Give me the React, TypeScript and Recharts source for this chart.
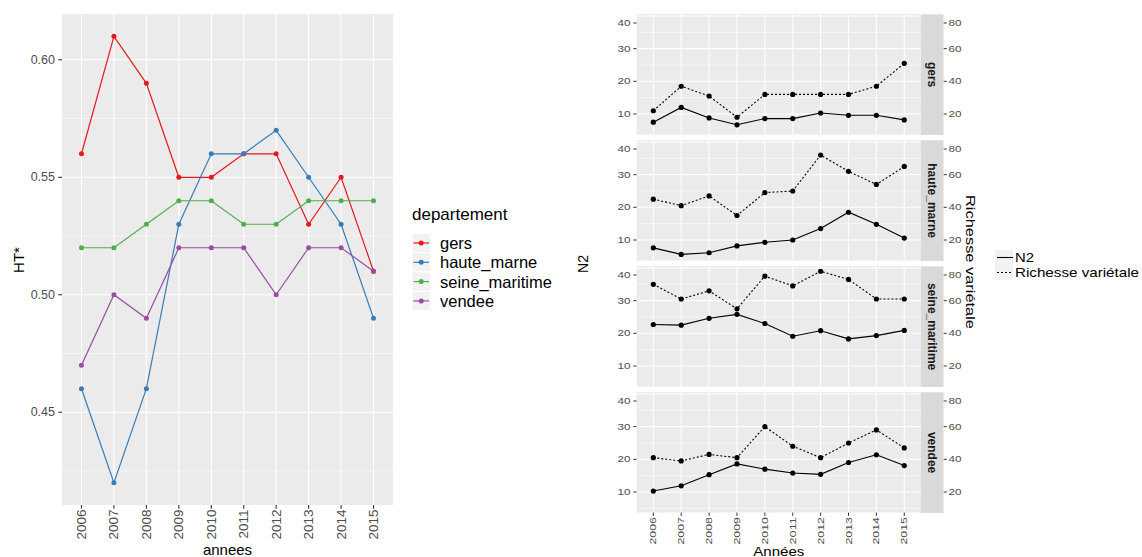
import { LineChart, Line, XAxis, YAxis, CartesianGrid } from "recharts";

const annees = [2006, 2007, 2008, 2009, 2010, 2011, 2012, 2013, 2014, 2015];

// HT* par departement (graphique de gauche)
const departements = ["gers", "haute_marne", "seine_maritime", "vendee"];
const couleurs = ["#E41A1C", "#377EB8", "#4DAF4A", "#984EA3"];
const htGers = [0.56, 0.61, 0.59, 0.55, 0.55, 0.56, 0.56, 0.53, 0.55, 0.51];
const htHauteMarne = [0.46, 0.42, 0.46, 0.53, 0.56, 0.56, 0.57, 0.55, 0.53, 0.49];
const htSeineMaritime = [0.52, 0.52, 0.53, 0.54, 0.54, 0.53, 0.53, 0.54, 0.54, 0.54];
const htVendee = [0.47, 0.5, 0.49, 0.52, 0.52, 0.52, 0.5, 0.52, 0.52, 0.51];
const htTicks = [0.45, 0.5, 0.55, 0.6];
const htMinor = [0.425, 0.475, 0.525, 0.575];

// N2 et richesse variétale (facettes de droite)
const n2Gers = [7.5, 12.0, 8.8, 6.7, 8.6, 8.6, 10.3, 9.6, 9.6, 8.2];
const richGers = [22, 37, 31, 18, 32, 32, 32, 32, 37, 51];
const n2HauteMarne = [7.6, 5.6, 6.1, 8.2, 9.3, 10.0, 13.5, 18.5, 14.8, 10.6];
const richHauteMarne = [45, 41, 47, 35, 49, 50, 72, 62, 54, 65];
const n2SeineMaritime = [22.7, 22.5, 24.6, 25.8, 23.0, 19.1, 20.8, 18.3, 19.3, 20.9];
const richSeineMaritime = [70, 61, 66, 55, 75, 69, 78, 73, 61, 61];
const n2Vendee = [10.3, 11.9, 15.3, 18.6, 17.0, 15.8, 15.4, 19.0, 21.4, 18.1];
const richVendee = [41, 39, 43, 41, 60, 48, 41, 50, 58, 47];
const n2Ticks = [10, 20, 30, 40];
const n2Minor = [5, 15, 25, 35];
const richTicks = [20, 40, 60, 80];

const FONT = "'Liberation Sans', Arial, sans-serif";
const GRIS_FOND = "#EBEBEB";

const htRows = annees.map((annee, i) => ({
  annee,
  gers: htGers[i],
  haute_marne: htHauteMarne[i],
  seine_maritime: htSeineMaritime[i],
  vendee: htVendee[i],
}));

const facettes = [
  { label: "gers", n2: n2Gers, rich: richGers },
  { label: "haute_marne", n2: n2HauteMarne, rich: richHauteMarne },
  { label: "seine_maritime", n2: n2SeineMaritime, rich: richSeineMaritime },
  { label: "vendee", n2: n2Vendee, rich: richVendee },
];

const N2_DOMAIN = [3.7, 40.6];
const RICH_DOMAIN = [N2_DOMAIN[0] * 2, N2_DOMAIN[1] * 2];

const PANEL_TOP = 14.3;
const PANEL_STEP = 126;
const PANEL_H = 120.6;

function HtYTick({ x, y, payload }: any) {
  return (
    <g>
      <line x1={x - 3.7} x2={x} y1={y} y2={y} stroke="#333333" strokeWidth={1.1} />
      <text x={x - 7} y={y} textAnchor="end" dominantBaseline="central" fontSize={12.5} fill="#4D4D4D" fontFamily={FONT}>
        {Number(payload.value).toFixed(2)}
      </text>
    </g>
  );
}

function HtXTick({ x, y, payload }: any) {
  return (
    <g>
      <line x1={x} x2={x} y1={y} y2={y + 3.7} stroke="#333333" strokeWidth={1.1} />
      <text
        transform={`translate(${x},${y + 4.5}) rotate(-90)`}
        textAnchor="end"
        dominantBaseline="central"
        fontSize={13.5}
        fill="#4D4D4D"
        fontFamily={FONT}
      >
        {payload.value}
      </text>
    </g>
  );
}

function N2YTick({ x, y, payload }: any) {
  return (
    <g>
      <line x1={x - 3.3} x2={x} y1={y} y2={y} stroke="#333333" strokeWidth={1} />
      <text x={x - 6} y={y} textAnchor="end" dominantBaseline="central" fontSize={9} textLength={13} lengthAdjust="spacingAndGlyphs" fill="#4D4D4D" fontFamily={FONT}>
        {payload.value}
      </text>
    </g>
  );
}

function RichYTick({ x, y, payload }: any) {
  // la bande grise de la facette se trouve entre le panneau et l'axe
  const ax = x + 22.5;
  return (
    <g>
      <line x1={ax} x2={ax + 3.3} y1={y} y2={y} stroke="#333333" strokeWidth={1} />
      <text x={ax + 5} y={y} textAnchor="start" dominantBaseline="central" fontSize={9} textLength={13} lengthAdjust="spacingAndGlyphs" fill="#4D4D4D" fontFamily={FONT}>
        {payload.value}
      </text>
    </g>
  );
}

function AnneeTick({ x, y, payload }: any) {
  return (
    <g>
      <line x1={x} x2={x} y1={y} y2={y + 3.3} stroke="#333333" strokeWidth={1} />
      <text
        transform={`translate(${x},${y + 4.5}) rotate(-90)`}
        textAnchor="end"
        dominantBaseline="central"
        fontSize={8.5}
        textLength={27.5}
        lengthAdjust="spacingAndGlyphs"
        fill="#4D4D4D"
        fontFamily={FONT}
      >
        {payload.value}
      </text>
    </g>
  );
}

function Facette({ facette, index }: { facette: any; index: number }) {
  const showX = index === facettes.length - 1;
  const height = PANEL_H + (showX ? 44 : 0);
  const rows = annees.map((annee, i) => ({
    annee,
    n2: facette.n2[i],
    rich: facette.rich[i],
  }));

  return (
    <div style={{ position: "absolute", left: 600, top: PANEL_TOP + index * PANEL_STEP, width: 370, height }}>
      <LineChart width={370} height={height} data={rows} margin={{ top: 0, right: 0, bottom: 0, left: 0 }}>
        <CartesianGrid yAxisId="n2" fill={GRIS_FOND} stroke="#FFFFFF" strokeWidth={1.1} horizontalValues={n2Ticks} verticalValues={annees} />
        <CartesianGrid yAxisId="n2" stroke="#FFFFFF" strokeWidth={0.55} vertical={false} horizontalValues={n2Minor} />
        <XAxis
          dataKey="annee"
          type="number"
          domain={[2005.4, 2015.6]}
          ticks={annees}
          interval={0}
          allowDataOverflow
          hide={!showX}
          height={44}
          tickSize={0}
          tickMargin={0}
          axisLine={false}
          tickLine={false}
          tick={<AnneeTick />}
        />
        <YAxis
          yAxisId="n2"
          type="number"
          domain={N2_DOMAIN}
          ticks={n2Ticks}
          allowDataOverflow
          width={36.6}
          tickSize={0}
          tickMargin={0}
          axisLine={false}
          tickLine={false}
          tick={<N2YTick />}
        />
        <YAxis
          yAxisId="rich"
          orientation="right"
          type="number"
          domain={RICH_DOMAIN}
          ticks={richTicks}
          allowDataOverflow
          width={49}
          tickSize={0}
          tickMargin={0}
          axisLine={false}
          tickLine={false}
          tick={<RichYTick />}
        />
        <Line
          yAxisId="n2"
          dataKey="n2"
          stroke="#000000"
          strokeWidth={1.1}
          dot={{ r: 2.6, fill: "#000000", stroke: "#000000", strokeWidth: 0 }}
          activeDot={false}
          isAnimationActive={false}
        />
        <Line
          yAxisId="rich"
          dataKey="rich"
          stroke="#000000"
          strokeWidth={1.1}
          strokeDasharray="2 2"
          dot={{ r: 2.6, fill: "#000000", stroke: "#000000", strokeWidth: 0, strokeDasharray: "0" }}
          activeDot={false}
          isAnimationActive={false}
        />
      </LineChart>
    </div>
  );
}

export default function App() {
  return (
    <div style={{ position: "absolute", left: 0, top: 0, width: 1142, height: 557, background: "#FFFFFF", fontFamily: FONT, overflow: "hidden" }}>
      <div style={{ position: "absolute", left: 0, top: 0, width: 400, height: 557 }}>
        <LineChart width={400} height={557} data={htRows} margin={{ top: 14, right: 7, bottom: 0, left: 0 }}>
          <CartesianGrid fill={GRIS_FOND} stroke="#FFFFFF" strokeWidth={1.1} horizontalValues={htTicks} verticalValues={annees} />
          <CartesianGrid stroke="#FFFFFF" strokeWidth={0.55} vertical={false} horizontalValues={htMinor} />
          <XAxis
            dataKey="annee"
            type="number"
            domain={[2005.4, 2015.6]}
            ticks={annees}
            interval={0}
            allowDataOverflow
            height={52}
            tickSize={0}
            tickMargin={0}
            axisLine={false}
            tickLine={false}
            tick={<HtXTick />}
          />
          <YAxis
            type="number"
            domain={[0.4105, 0.6195]}
            ticks={htTicks}
            allowDataOverflow
            width={62}
            tickSize={0}
            tickMargin={0}
            axisLine={false}
            tickLine={false}
            tick={<HtYTick />}
          />
          {departements.map((dep, i) => (
            <Line
              key={dep}
              dataKey={dep}
              stroke={couleurs[i]}
              strokeWidth={1.2}
              dot={{ r: 2.5, fill: couleurs[i], stroke: couleurs[i], strokeWidth: 0 }}
              activeDot={false}
              isAnimationActive={false}
            />
          ))}
        </LineChart>
      </div>

      {facettes.map((f, i) => (
        <Facette key={f.label} facette={f} index={i} />
      ))}

      <svg width={1142} height={557} style={{ position: "absolute", left: 0, top: 0, pointerEvents: "none" }} fontFamily={FONT}>
        {/* titres du graphique de gauche */}
        <text x={227.5} y={555} textAnchor="middle" fontSize={15} fill="#000000">annees</text>
        <text transform="translate(18,260) rotate(-90)" textAnchor="middle" dominantBaseline="central" fontSize={15} fill="#000000">HT*</text>

        {/* legende departement */}
        <text x={412} y={220} fontSize={17} fill="#000000">departement</text>
        {departements.map((dep, i) => {
          const cy = 243 + i * 19.3;
          return (
            <g key={dep}>
              <rect x={412} y={cy - 9.5} width={18.5} height={19} fill="#F2F2F2" stroke="#FFFFFF" strokeWidth={0.8} />
              <line x1={413.5} x2={429} y1={cy} y2={cy} stroke={couleurs[i]} strokeWidth={1.2} />
              <circle cx={421.2} cy={cy} r={2.5} fill={couleurs[i]} />
              <text x={440} y={cy} dominantBaseline="central" fontSize={16.5} fill="#000000">{dep}</text>
            </g>
          );
        })}

        {/* bandes des facettes */}
        {facettes.map((f, i) => {
          const top = PANEL_TOP + i * PANEL_STEP;
          return (
            <g key={f.label}>
              <rect x={921} y={top} width={22.5} height={PANEL_H} fill="#D9D9D9" />
              <text
                transform={`translate(932.2,${top + PANEL_H / 2}) rotate(90)`}
                textAnchor="middle"
                dominantBaseline="central"
                fontSize={12}
                fontWeight="bold"
                fill="#1A1A1A"
              >
                {f.label}
              </text>
            </g>
          );
        })}

        {/* titres des facettes */}
        <text x={778.8} y={555.5} textAnchor="middle" fontSize={13} textLength={51} lengthAdjust="spacingAndGlyphs" fill="#000000">Années</text>
        <text transform="translate(583,264) rotate(-90)" textAnchor="middle" dominantBaseline="central" fontSize={14} fill="#000000">N2</text>
        <text transform="translate(970,262) rotate(90)" textAnchor="middle" dominantBaseline="central" fontSize={13.5} textLength={134} lengthAdjust="spacingAndGlyphs" fill="#000000">Richesse variétale</text>

        {/* legende N2 / richesse */}
        <rect x={995} y={250} width={18} height={15} fill="#F2F2F2" />
        <rect x={995} y={265} width={18} height={15} fill="#F2F2F2" />
        <line x1={997} x2={1013} y1={257.5} y2={257.5} stroke="#000000" strokeWidth={1.1} />
        <line x1={997} x2={1013} y1={272.5} y2={272.5} stroke="#000000" strokeWidth={1.1} strokeDasharray="2 2" />
        <text x={1015} y={257.5} dominantBaseline="central" fontSize={13.5} textLength={19} lengthAdjust="spacingAndGlyphs" fill="#000000">N2</text>
        <text x={1015} y={272.5} dominantBaseline="central" fontSize={13.5} textLength={124} lengthAdjust="spacingAndGlyphs" fill="#000000">Richesse variétale</text>
      </svg>
    </div>
  );
}
